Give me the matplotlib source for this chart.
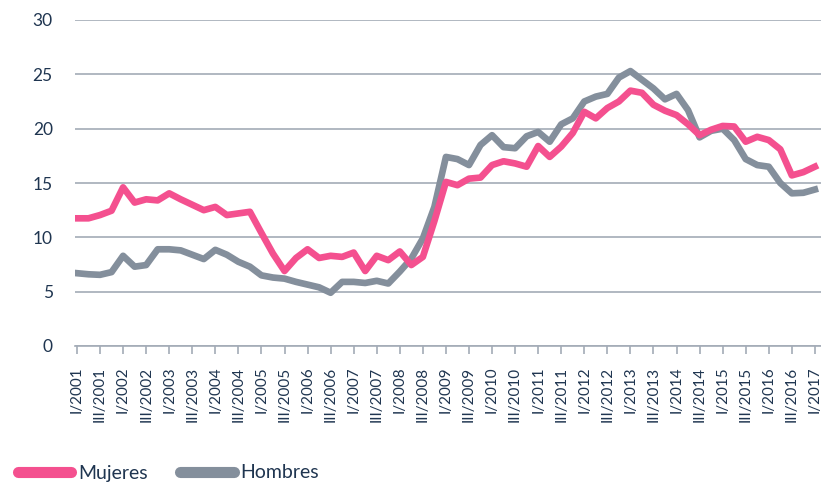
import numpy as np
import matplotlib
matplotlib.use("Agg")
import matplotlib.pyplot as plt
from matplotlib.lines import Line2D

plt.rcParams['font.family'] = ['Lato', 'DejaVu Sans']

years = list(range(2001, 2018))
quarters = []
for y in years:
    for q in ['I', 'II', 'III', 'IV']:
        quarters.append(f"{q}/{y}")
quarters = quarters[:65]  # I/2001 .. I/2017

mujeres = [11.75, 11.75, 12.05, 12.45, 14.6, 13.2, 13.5, 13.4, 14.05, 13.5,
           13.0, 12.5, 12.8, 12.05, 12.2, 12.35, 10.4, 8.5, 6.9, 8.1,
           8.9, 8.1, 8.3, 8.2, 8.6, 6.9, 8.3, 7.9, 8.7, 7.45,
           8.2, 11.5, 15.1, 14.8, 15.4, 15.5, 16.65, 17.0, 16.8, 16.5,
           18.4, 17.4, 18.35, 19.6, 21.55, 20.95, 21.9, 22.5, 23.5, 23.3,
           22.2, 21.65, 21.25, 20.4, 19.4, 19.9, 20.25, 20.2, 18.8, 19.25,
           18.95, 18.1, 15.7, 16.0, 16.5]

hombres = [6.7, 6.6, 6.55, 6.8, 8.3, 7.3, 7.45, 8.9, 8.9, 8.8,
           8.4, 8.0, 8.85, 8.4, 7.75, 7.3, 6.5, 6.3, 6.2, 5.9,
           5.65, 5.4, 4.9, 5.9, 5.9, 5.8, 6.0, 5.75, 6.85, 8.05,
           9.9, 12.8, 17.4, 17.2, 16.65, 18.5, 19.4, 18.3, 18.2, 19.3,
           19.7, 18.8, 20.4, 20.95, 22.5, 22.95, 23.2, 24.7, 25.3, 24.5,
           23.7, 22.7, 23.2, 21.7, 19.2, 19.8, 20.0, 18.95, 17.2, 16.65,
           16.5, 15.0, 14.05, 14.1, 14.4]

pink = '#F4508F'
gray = '#848F9C'
grid_c = '#A3ABB6'
text_c = '#1F3550'

x = np.arange(len(quarters))

fig = plt.figure(figsize=(8.21, 4.84), dpi=100)
ax = fig.add_axes([75 / 821, 1 - 346 / 484, 746 / 821, 326 / 484])

ax.plot(x, hombres, color=gray, lw=4.8, solid_joinstyle='round', zorder=3)
ax.plot(x, mujeres, color=pink, lw=4.8, solid_joinstyle='round', zorder=4)

ax.set_ylim(0, 30)
ax.set_yticks(range(0, 31, 5))
ax.set_xlim(-0.17, 64.53)
ax.set_xticks(x[::2])
ax.set_xticklabels(quarters[::2], rotation=90, fontsize=11, color=text_c)
ax.tick_params(axis='y', length=0, labelsize=12.5, labelcolor=text_c, pad=16)
ax.tick_params(axis='x', length=6, direction='out', color=grid_c, width=1.2, pad=9)
for lab in ax.get_xticklabels():
    lab.set_verticalalignment('top')

ax.grid(axis='y', color=grid_c, lw=1.2)
ax.set_axisbelow(True)
for s in ['top', 'right', 'left']:
    ax.spines[s].set_visible(False)
ax.spines['bottom'].set_color(grid_c)
ax.spines['bottom'].set_linewidth(1.2)

handles = [Line2D([], [], color=pink, lw=8, solid_capstyle='round'),
           Line2D([], [], color=gray, lw=8, solid_capstyle='round')]
fig.legend(handles, ['Mujeres', 'Hombres'], loc='center left',
           bbox_to_anchor=(0.0, 1 - 473 / 484), ncol=2, frameon=False,
           fontsize=14, handlelength=2.75, handletextpad=0.35,
           columnspacing=1.7, labelcolor=text_c)

fig.savefig('out.png', dpi=100)
